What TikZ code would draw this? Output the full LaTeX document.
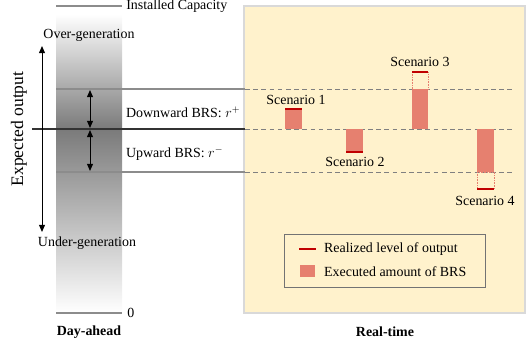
\documentclass[tikz,border=0pt]{standalone}
\usepackage{fontspec}
\setmainfont{Liberation Serif}
\usetikzlibrary{arrows.meta,positioning}
\definecolor{panel}{HTML}{FFF2CC}
\definecolor{brs}{HTML}{E6806F}
\definecolor{realized}{HTML}{C00000}
\definecolor{level}{HTML}{8C8C8C}

\begin{document}
\begin{tikzpicture}[x=0.03cm,y=-0.03cm,font=\fontsize{11.9}{13}\selectfont,
  levelline/.style={level,line width=1.3pt},
  dashline/.style={black!50,dash pattern=on 4pt off 3pt,line width=0.7pt},
  bar/.style={fill=brs,draw=none},
  mark line/.style={realized,line width=1.5pt},
  ghost/.style={brs,densely dotted,line width=0.4pt},
  tip/.style={{Triangle[width=5pt,length=6pt]}-{Triangle[width=5pt,length=6pt]},thick}]
  \useasboundingbox (0,0) rectangle (529,345);

  % Day-ahead column
  \shade[top color=white,bottom color=black!52] (56,14) rectangle (122,129);
  \shade[top color=black!52,bottom color=white] (56,129) rectangle (122,313);

  % Real-time panel
  \draw[black!15,fill=panel,line width=1pt] (244,6) rectangle (525,313);

  % Levels
  \draw[levelline] (56,6) -- (122,6) node[right,inner sep=3pt,text=black] (cap) {Installed Capacity};
  \draw[levelline] (56,89) -- (245,89);
  \draw[black!80,line width=1.6pt] (32,129) -- (245,129);
  \draw[levelline] (56,172) -- (245,172);
  \draw[levelline] (56,313) -- (122,313) node[right,inner sep=4pt,text=black] (zero) {0};

  \draw[dashline] (245,89) -- (513,89);
  \draw[dashline] (245,129) -- (513,129);
  \draw[dashline] (245,172) -- (513,172);

  % Expected output axis
  \node (over) at (89,35) {Over-generation};
  \node (under) at (87,243) {Under-generation};
  \coordinate (top) at (42,46);
  \coordinate (bot) at (42,232);
  \draw[tip] (top) -- (bot);
  \node[rotate=90,font=\fontsize{15}{17}\selectfont] (axis) at (19,129) {Expected output};

  % Reserve ranges
  \draw[tip] (90,90) -- (90,128);
  \draw[tip] (90,130) -- (90,171);
  \node[anchor=west] (down) at (122,112) {Downward BRS: $r^+$};
  \node[anchor=west] (upw) at (122,154) {Upward BRS: $r^-$};

  % Scenarios
  \fill[bar] (285,109) rectangle (302,129);
  \draw[mark line] (285,109) -- (302,109);
  \node (s1) at (296,100) {Scenario 1};

  \fill[bar] (346,129) rectangle (363,152);
  \draw[mark line] (346,152) -- (363,152);
  \node (s2) at (355,162) {Scenario 2};

  \fill[bar] (412,89) rectangle (428,129);
  \draw[ghost] (412,72) rectangle (428,89);
  \draw[mark line] (412,72) -- (428,72);
  \node (s3) at (420,62) {Scenario 3};

  \fill[bar] (477,129) rectangle (494,172);
  \draw[ghost] (477,172) rectangle (494,189);
  \draw[mark line] (477,189) -- (494,189);
  \node (s4) at (485,201) {Scenario 4};

  % Legend
  \draw[black!55,line width=0.8pt] (284,234) rectangle (485,287);
  \draw[mark line] (299,249) -- (316,249);
  \fill[bar] (300,265) rectangle (315,277);
  \node[anchor=west] (leg1) at (320,249) {Realized level of output};
  \node[anchor=west] (leg2) at (320,272) {Executed amount of BRS};

  % Stage labels
  \node[font=\fontsize{11.9}{13}\selectfont\bfseries] (da) at (89,332) {Day-ahead};
  \node[font=\fontsize{11.9}{13}\selectfont\bfseries] (rt) at (385,332) {Real-time};
\end{tikzpicture}
\end{document}
